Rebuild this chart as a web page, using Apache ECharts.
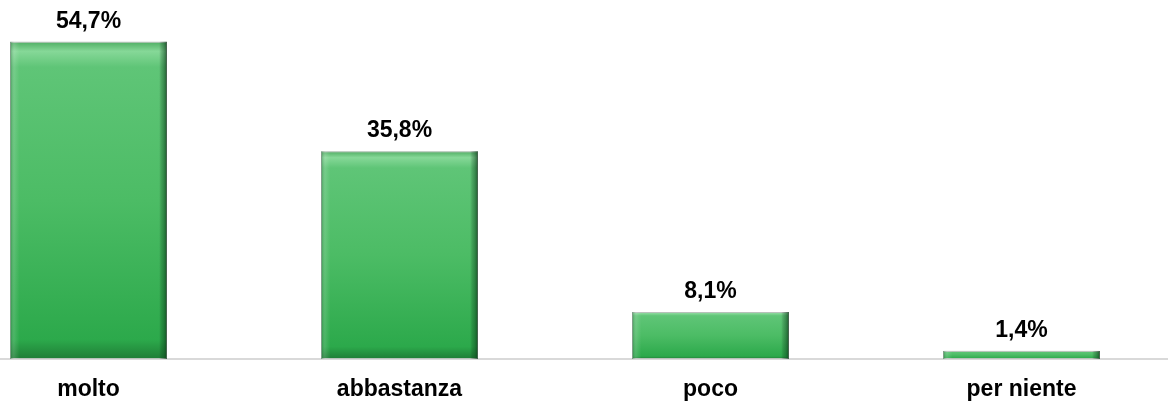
<!DOCTYPE html>
<html>
<head>
<meta charset="utf-8">
<script src="https://cdn.jsdelivr.net/npm/echarts@6/dist/echarts.min.js"></script>
<style>html,body{margin:0;padding:0;background:#fff;}#c{width:1168px;height:403px;}</style>
</head>
<body>
<div id="c"></div>
<script>
const categories = ['molto', 'abbastanza', 'poco', 'per niente'];
const values = [54.7, 35.8, 8.1, 1.4];

const chart = echarts.init(document.getElementById('c'), null, {renderer: 'canvas'});
const fmt = p => String(p.value).replace('.', ',') + '%';
chart.setOption({
  animation: false,
  grid: {left: -67, right: -9, top: 11, bottom: 44, containLabel: false, outerBoundsMode: 'none'},
  xAxis: {
    type: 'category',
    data: categories,
    axisLine: {show: true, lineStyle: {color: '#d9d9d9', width: 2}},
    axisTick: {show: false},
    axisLabel: {margin: 19, color: '#000', fontFamily: 'Liberation Sans, Arial', fontWeight: 'bold', fontSize: 23}
  },
  yAxis: {type: 'value', min: 0, max: 60, show: false, splitLine: {show: false}},
  series: [
    {
      type: 'bar',
      data: values,
      barWidth: 157,
      z: 2,
      itemStyle: {
        color: new echarts.graphic.LinearGradient(0, 0, 0, 1, [
          {offset: 0, color: '#4fae63'},
          {offset: 0.03, color: '#86d898'},
          {offset: 0.08, color: '#5fc577'},
          {offset: 0.5, color: '#4cbc65'},
          {offset: 0.94, color: '#2ca94b'},
          {offset: 1, color: '#1f7d36'}
        ]),
        borderColor: '#b8c2ba',
        borderWidth: 1
      },
      label: {
        show: true, position: 'top', distance: 9, formatter: fmt,
        color: '#000', fontFamily: 'Liberation Sans, Arial', fontWeight: 'bold', fontSize: 23
      }
    },
    {
      type: 'bar',
      data: values,
      barWidth: 157,
      barGap: '-100%',
      z: 3,
      silent: true,
      itemStyle: {
        color: new echarts.graphic.LinearGradient(0, 0, 1, 0, [
          {offset: 0, color: 'rgba(20,90,40,0.45)'},
          {offset: 0.03, color: 'rgba(255,255,255,0.12)'},
          {offset: 0.06, color: 'rgba(255,255,255,0)'},
          {offset: 0.95, color: 'rgba(0,0,0,0)'},
          {offset: 0.975, color: 'rgba(10,60,25,0.35)'},
          {offset: 1, color: 'rgba(10,50,20,0.7)'}
        ])
      }
    }
  ]
});
</script>
</body>
</html>
